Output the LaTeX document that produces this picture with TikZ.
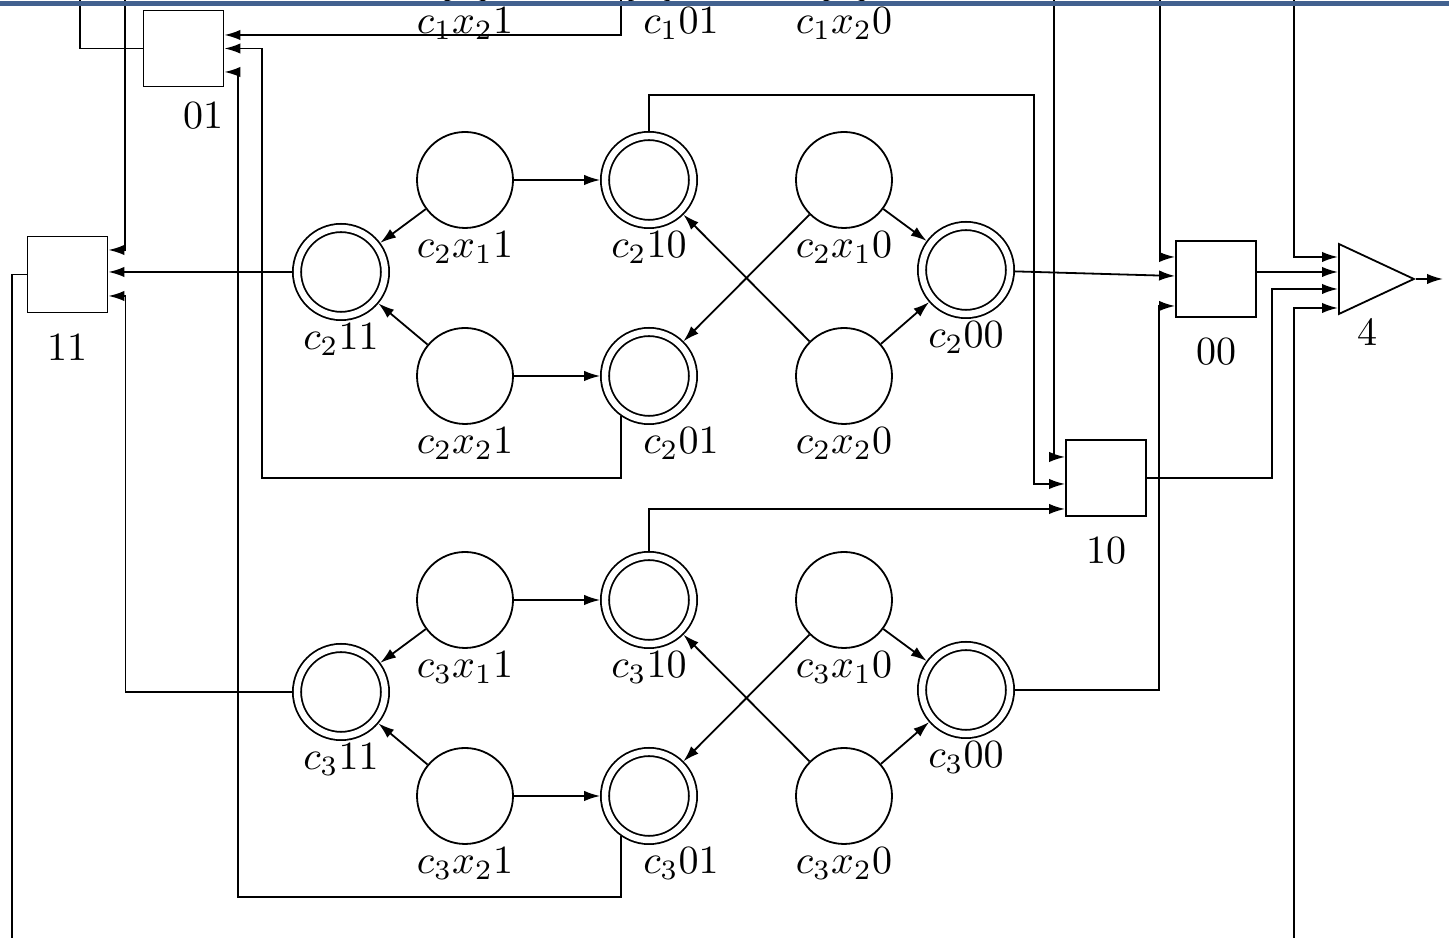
\documentclass[tikz,border=0pt]{standalone}
\usepackage{amsmath,amssymb}
\usepackage{tikz}
\usetikzlibrary{arrows.meta,shapes.geometric,calc}
\definecolor{barblue}{RGB}{66,97,143}

\begin{document}
\begin{tikzpicture}[x=0.25pt,y=-0.25pt,>={Latex[length=4pt,width=2.6pt]},
  line width=0.45pt,
  st/.style={draw,circle,minimum size=24pt,inner sep=0pt},
  acc/.style={st,double,double distance=1.6pt,minimum size=22pt,outer sep=1.2pt},
  box/.style={draw,minimum width=20pt,minimum height=19pt,inner sep=0pt},
  gate/.style={draw,isosceles triangle,isosceles triangle stretches,
    minimum width=17.5pt,minimum height=18.75pt,inner sep=0pt,anchor=west},
  lab/.style={inner sep=0.5pt},
  blab/.style={yshift=-1.5pt}]
\useasboundingbox (0,0) rectangle (1449,938);
\clip (0,0) rectangle (1449,938);
\node[st] (c1x21) at (465,-44) [label={[lab]below:$c_1x_21$}] {};
\node[acc] (c101) at (649,-44) [label={[lab,xshift=8pt]below:$c_101$}] {};
\node[st] (c1x20) at (844,-44) [label={[lab]below:$c_1x_20$}] {};
\foreach \i/\y in {2/180,3/600}{
  \node[st] (c\i x11) at (465,\y) [label={[lab]below:$c_\i x_11$}] {};
  \node[acc] (c\i 10) at (649,\y) [label={[lab]below:$c_\i 10$}] {};
  \node[st] (c\i x10) at (844,\y) [label={[lab]below:$c_\i x_10$}] {};
  \node[acc] (c\i 11) at (341,\y+92) [label={[lab]below:$c_\i 11$}] {};
  \node[acc] (c\i 00) at (966,\y+90) [label={[lab]below:$c_\i 00$}] {};
  \node[st] (c\i x21) at (465,\y+196) [label={[lab]below:$c_\i x_21$}] {};
  \node[acc] (c\i 01) at (649,\y+196) [label={[lab,xshift=8pt]below:$c_\i 01$}] {};
  \node[st] (c\i x20) at (844,\y+196) [label={[lab]below:$c_\i x_20$}] {};
  \draw[->] (c\i x11) -- (c\i 10);
  \draw[->] (c\i x11) -- (c\i 11);
  \draw[->] (c\i x21) -- (c\i 01);
  \draw[->] (c\i x21) -- (c\i 11);
  \draw[->] (c\i x10) -- (c\i 01);
  \draw[->] (c\i x10) -- (c\i 00);
  \draw[->] (c\i x20) -- (c\i 10);
  \draw[->] (c\i x20) -- (c\i 00);
}
\node[box,label={[xshift=5pt]below:01}] (b01) at (183.5,48.5) {};
\node[box,label={[blab]below:11}] (b11) at (67.5,274.5) {};
\node[box,label={[blab]below:00}] (b00) at (1216,279) {};
\node[box,label={[blab]below:10}] (b10) at (1106,478) {};
\node[gate,label={[xshift=1.5pt]below:4}] (g4) at (1338,279) {};
\coordinate (t80) at (80,0);
\coordinate (t125) at (125,0);
\coordinate (t1054) at (1054,0);
\coordinate (t1160) at (1160,0);
\coordinate (t1294) at (1294,0);
\coordinate (d12) at (12,938);
\coordinate (d1294) at (1294,938);
\coordinate (out) at (1443,279);
\draw (b01.west) -| (t80);
\draw[->] (c101.-125) |- ($(b01.east)+(0,-13.5)$);
\draw[->] (c201.-125) |- (262,478) |- (b01.east);
\draw[->] (c301.-125) |- (238,897) |- ($(b01.east)+(0,23.5)$);
\draw[->] (t125) |- ($(b11.east)+(0,-24.5)$);
\draw[->] (c211) -- (c211 -| b11.east);
\draw[->] (c311.west) -| ($(b11.east)+(17,21.5)$) -- ($(b11.east)+(0,21.5)$);
\draw (b11.west) -| (d12);
\draw[->] (t1054) |- ($(b10.west)+(0,-21)$);
\draw[->] (c210.north) |- (1034,95) |- ($(b10.west)+(0,6)$);
\draw[->] (c310.north) |- ($(b10.west)+(0,31)$);
\draw[->] (b10.east) -| (1272,289) -- ($(g4.west)+(0,10)$);
\draw[->] (t1160) |- ($(b00.west)+(0,-22)$);
\draw[->] (c200) -- ($(b00.west)+(0,-3)$);
\draw[->] (c300.east) -| ($(b00.west)+(-16,27)$) -- ($(b00.west)+(0,27)$);
\draw[->] ($(b00.east)+(0,-7)$) -- ($(g4.west)+(0,-7)$);
\draw[->] (t1294) |- ($(g4.west)+(0,-22)$);
\draw[->] (d1294) |- ($(g4.west)+(0,29)$);
\draw[->] (g4.east) -- (out);
\fill[barblue] (0,1) rectangle (1449,6.5);
\end{tikzpicture}
\end{document}
